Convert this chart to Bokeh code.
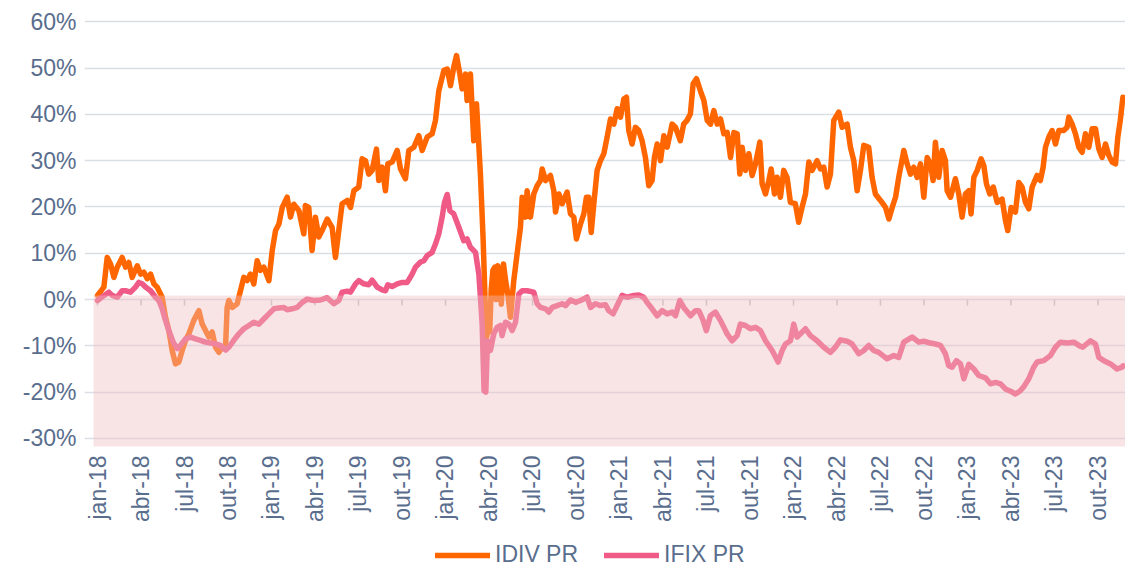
import math
from bokeh.plotting import figure
from bokeh.models import (Range1d, FixedTicker, PrintfTickFormatter, BoxAnnotation,
                          Legend, LegendItem)
from bokeh.core.properties import value
from bokeh.embed import file_html
from bokeh.resources import INLINE

# ---------------- data (months since jan-2018, value in %) ----------------
tick_months = [0, 3, 6, 9, 12, 15, 18, 21, 24, 27, 30, 33, 36, 39, 42, 45,
               48, 51, 54, 57, 60, 63, 66, 69]
tick_labels = ["jan-18", "abr-18", "jul-18", "out-18", "jan-19", "abr-19", "jul-19", "out-19",
               "jan-20", "abr-20", "jul-20", "out-20", "jan-21", "abr-21", "jul-21", "out-21",
               "jan-22", "abr-22", "jul-22", "out-22", "jan-23", "abr-23", "jul-23", "out-23"]
y_ticks = [-30, -20, -10, 0, 10, 20, 30, 40, 50, 60]

idiv_t = [0.0, 0.44, 0.67, 0.9, 1.13, 1.36, 1.7, 1.93, 2.16, 2.39, 2.74, 2.97, 3.2, 3.43, 3.66, 3.89,
          4.11, 4.46, 4.69, 4.92, 5.15, 5.38, 5.61, 5.84, 6.07, 6.3, 6.64, 6.99, 7.22, 7.45, 7.68,
          7.91, 8.14, 8.37, 8.6, 8.83, 8.94, 9.06, 9.29, 9.63, 9.86, 10.09, 10.32, 10.55, 10.78,
          11.01, 11.24, 11.47, 11.82, 12.05, 12.28, 12.51, 12.74, 13.08, 13.31, 13.54, 13.89,
          14.23, 14.34, 14.57, 14.8, 15.03, 15.26, 15.49, 15.84, 16.18, 16.41, 16.64, 16.87,
          17.22, 17.45, 17.68, 18.02, 18.25, 18.48, 18.71, 18.94, 19.24, 19.4, 19.63, 19.86,
          20.02, 20.32, 20.67, 20.9, 21.24, 21.47, 21.82, 22.16, 22.39, 22.74, 23.08, 23.31,
          23.54, 23.89, 24.12, 24.35, 24.57, 24.76, 24.99, 25.15, 25.38, 25.49, 25.72, 25.95,
          26.14, 26.41, 26.6, 26.75, 26.85, 26.95, 27.05, 27.15, 27.27, 27.4, 27.5, 27.6, 27.75,
          27.85, 28.0, 28.15, 28.3, 28.48, 28.71, 28.94, 29.17, 29.29, 29.52, 29.63, 29.86,
          30.09, 30.32, 30.55, 30.67, 30.9, 31.24, 31.47, 31.59, 31.82, 32.05, 32.39, 32.62,
          32.85, 33.03, 33.31, 33.54, 33.72, 33.88, 34.05, 34.23, 34.46, 34.69, 34.92, 35.15,
          35.38, 35.61, 35.84, 36.07, 36.3, 36.48, 36.64, 36.87, 37.1, 37.33, 37.56, 37.79,
          38.02, 38.25, 38.41, 38.6, 38.83, 39.06, 39.29, 39.63, 39.86, 40.2, 40.43, 40.66,
          40.89, 41.08, 41.31, 41.59, 41.82, 42.05, 42.28, 42.51, 42.74, 42.97, 43.2, 43.43,
          43.66, 43.89, 44.12, 44.3, 44.46, 44.69, 44.92, 45.15, 45.38, 45.68, 45.84, 46.07,
          46.3, 46.46, 46.69, 46.87, 47.1, 47.33, 47.56, 47.79, 48.13, 48.36, 48.59, 48.83,
          49.06, 49.29, 49.63, 49.86, 50.09, 50.32, 50.55, 50.78, 51.13, 51.36, 51.7, 51.93,
          52.16, 52.39, 52.62, 52.85, 53.19, 53.42, 53.65, 54.0, 54.35, 54.58, 54.81, 55.04,
          55.26, 55.61, 55.84, 56.07, 56.3, 56.53, 56.76, 56.99, 57.22, 57.45, 57.63, 57.79,
          58.02, 58.25, 58.48, 58.6, 58.83, 59.17, 59.4, 59.63, 59.86, 60.09, 60.25, 60.44,
          60.67, 60.94, 61.13, 61.31, 61.54, 61.78, 62.05, 62.39, 62.62, 62.78, 63.01, 63.31,
          63.54, 63.77, 64.0, 64.23, 64.46, 64.8, 65.03, 65.22, 65.38, 65.61, 65.84, 66.07,
          66.3, 66.64, 66.87, 66.99, 67.22, 67.45, 67.68, 67.91, 68.14, 68.37, 68.6, 68.83,
          69.06, 69.29, 69.52, 69.75, 69.98, 70.21, 70.37, 70.54, 70.72]
idiv_v = [0.9, 2.7, 9.1, 7.7, 4.8, 7.0, 9.1, 7.0, 8.0, 4.8, 7.3, 5.5, 5.9, 4.5, 5.5, 3.4,
          2.7, 0.5, -3.8, -6.7, -11.0, -13.9, -13.5, -11.0, -8.8, -7.4, -4.5, -2.4, -5.3, -6.7, -8.1,
          -7.0, -10.3, -11.4, -10.3, -10.3, -1.7, -0.2, -1.7, -0.9, 1.9, 4.8, 4.1, 5.5, 3.4,
          8.4, 6.3, 7.0, 4.1, 10.6, 14.9, 16.3, 19.9, 22.1, 17.8, 20.6, 19.2,
          14.2, 20.3, 19.9, 10.6, 17.8, 13.5, 14.9, 17.4, 15.6, 9.1, 14.9, 20.7,
          21.4, 19.9, 23.5, 24.3, 30.4, 30.0, 27.1, 27.9, 32.5, 25.7, 28.6, 23.5,
          29.3, 29.7, 32.2, 28.2, 26.1, 32.2, 32.9, 35.4, 32.2, 35.1, 35.8, 38.7,
          45.1, 49.5, 49.8, 46.2, 50.2, 52.7, 48.7, 45.5, 48.7, 43.0, 48.7, 34.3,
          42.3, 27.1, 12.7, -2.0, -8.0, -5.0, -7.0, 2.0, 6.3, 7.0, 0.0, 7.3, 5.5,
          -1.0, 7.7, 4.0, 1.2, -3.8, 4.1, 9.9, 15.6, 22.1, 17.8, 23.5, 17.8,
          22.8, 24.6, 25.7, 28.2, 25.7, 26.8, 23.5, 18.9, 22.8, 20.7, 23.2, 18.5,
          17.8, 13.1, 16.3, 18.5, 22.1, 22.1, 14.5, 20.7, 27.9, 30.0, 31.5, 35.1,
          39.0, 37.9, 41.2, 39.4, 43.3, 43.7, 36.5, 33.6, 37.2, 36.5, 34.3, 30.7,
          24.6, 25.7, 30.7, 33.6, 30.0, 35.4, 32.9, 37.9, 37.2, 34.3, 37.9, 38.7,
          40.1, 46.6, 47.7, 45.0, 43.0, 38.7, 37.9, 40.8, 37.9, 39.0, 35.8, 36.1,
          30.7, 36.1, 35.8, 27.1, 32.9, 27.9, 31.5, 26.8, 29.3, 34.0, 25.0, 22.8,
          25.7, 28.2, 22.8, 26.4, 22.1, 27.9, 26.4, 21.0, 20.7, 16.7, 19.9, 22.8,
          29.7, 27.9, 30.0, 28.2, 28.6, 24.3, 27.1, 38.7, 40.5, 37.2, 37.9, 32.9,
          30.0, 23.5, 27.9, 33.3, 32.9, 26.4, 22.8, 21.4, 19.9, 17.4, 19.9, 22.1,
          26.4, 32.2, 29.3, 27.1, 28.6, 26.4, 29.3, 22.1, 30.7, 29.3, 25.7, 34.0,
          26.4, 32.2, 30.0, 23.5, 22.1, 26.1, 22.8, 17.8, 22.8, 23.5, 18.5, 26.4,
          27.9, 30.4, 28.9, 25.0, 22.8, 24.3, 21.0, 21.7, 17.1, 14.9, 19.9, 18.9,
          25.3, 24.3, 21.0, 19.6, 24.3, 26.8, 25.7, 28.6, 32.9, 35.1, 36.5, 33.6,
          36.5, 36.5, 37.2, 39.4, 37.9, 35.8, 32.9, 31.8, 35.8, 32.9, 36.9, 36.9,
          32.5, 30.7, 33.6, 31.1, 29.7, 29.3, 35.1, 38.7, 43.7]

ifix_t = [0.0, 0.46, 0.78, 1.01, 1.36, 1.7, 1.93, 2.28, 2.62, 2.85, 3.08, 3.31, 3.66, 4.0, 4.23,
          4.46, 4.69, 4.92, 5.22, 5.5, 5.72, 6.07, 6.41, 6.76, 7.1, 7.45, 7.8, 8.14, 8.48, 8.83,
          9.06, 9.4, 9.75, 10.09, 10.44, 10.78, 11.13, 11.47, 11.82, 12.16, 12.51, 12.85, 13.08,
          13.43, 13.77, 14.12, 14.46, 14.92, 15.38, 15.84, 16.3, 16.64, 16.87, 17.22, 17.45,
          17.8, 18.02, 18.37, 18.71, 18.94, 19.29, 19.63, 19.86, 20.02, 20.32, 20.67, 21.01,
          21.36, 21.7, 21.93, 22.28, 22.51, 22.74, 23.08, 23.31, 23.54, 23.77, 23.93, 24.12,
          24.3, 24.57, 24.92, 25.26, 25.49, 25.72, 26.07, 26.3, 26.53, 26.66, 26.78, 26.9, 27.1,
          27.33, 27.56, 27.79, 27.9, 28.14, 28.37, 28.6, 28.83, 29.06, 29.29, 29.63, 30.09,
          30.32, 30.55, 30.9, 31.13, 31.36, 31.7, 32.05, 32.28, 32.62, 32.97, 33.31, 33.77,
          34.0, 34.34, 34.69, 35.03, 35.26, 35.56, 35.84, 36.18, 36.53, 36.99, 37.33, 37.67,
          37.9, 38.25, 38.6, 38.94, 39.29, 39.63, 39.86, 40.16, 40.43, 40.9, 41.24, 41.47,
          41.77, 41.99, 42.27, 42.62, 42.96, 43.42, 43.77, 44.11, 44.34, 44.69, 45.03, 45.38,
          45.72, 46.07, 46.53, 46.94, 47.22, 47.45, 47.79, 48.02, 48.25, 48.48, 48.83, 49.17,
          49.63, 50.09, 50.55, 50.89, 51.24, 51.7, 52.04, 52.5, 52.85, 53.19, 53.54, 53.88,
          54.46, 54.92, 55.26, 55.61, 56.18, 56.64, 56.99, 57.45, 57.79, 58.14, 58.48, 58.71,
          58.94, 59.24, 59.52, 59.75, 60.09, 60.44, 60.78, 61.24, 61.59, 61.93, 62.28, 62.62,
          62.97, 63.31, 63.61, 63.89, 64.23, 64.57, 64.8, 65.26, 65.72, 66.07, 66.41, 66.87,
          67.33, 67.79, 67.95, 68.48, 68.83, 69.06, 69.41, 69.87, 70.32, 70.67, 70.72]
ifix_v = [-0.2, 0.9, 1.6, 0.9, 0.5, 1.9, 1.9, 1.6, 2.7, 3.7, 3.4, 2.7, 1.9, 0.5, -0.2,
          -2.0, -4.5, -6.7, -9.2, -10.6, -9.9, -8.5, -8.1, -8.5, -8.8, -9.2, -9.4, -9.6, -9.9, -10.9,
          -10.3, -8.8, -7.4, -6.3, -5.6, -4.9, -5.3, -4.2, -3.1, -2.0, -1.8, -1.7, -2.2,
          -2.0, -1.7, -0.6, 0.1, -0.2, -0.1, 0.4, -0.9, -0.2, 1.6, 1.8, 1.6,
          3.4, 4.1, 3.4, 3.2, 4.2, 2.7, 2.1, 1.9, 3.2, 2.8, 3.4, 3.7,
          3.7, 5.5, 7.0, 8.1, 8.4, 9.5, 10.2, 12.0, 14.2, 17.8, 21.0, 22.7,
          19.2, 18.5, 15.6, 12.7, 13.1, 11.3, 10.2, 5.5, -5.3, -19.7, -20.0, -8.9, -11.0,
          -7.4, -6.0, -5.6, -7.8, -4.9, -5.3, -6.7, -4.9, 1.2, 1.9, 1.9, 1.6,
          -0.9, -1.7, -2.0, -2.7, -1.7, -1.3, -0.9, -1.3, -0.1, -0.6, -0.2, 0.5,
          -1.7, -0.9, -1.3, -1.1, -2.4, -3.1, -1.3, 0.9, 0.5, 0.9, 1.0, 0.5,
          -0.6, -2.0, -3.5, -2.4, -3.1, -2.7, -3.5, -0.2, -1.7, -3.5, -2.4, -2.4,
          -4.5, -6.7, -3.5, -2.7, -4.5, -7.4, -8.9, -7.8, -5.3, -5.6, -6.3, -6.0,
          -6.7, -8.9, -11.0, -13.5, -11.0, -9.6, -8.9, -5.3, -8.1, -7.4, -6.3, -7.8,
          -8.9, -10.3, -11.4, -10.3, -8.7, -9.0, -9.6, -11.7, -11.0, -9.9, -11.0, -11.4,
          -12.8, -12.1, -12.5, -9.2, -8.1, -9.2, -9.0, -9.4, -9.6, -9.9, -11.7, -14.3,
          -14.6, -13.2, -13.9, -17.1, -14.0, -15.0, -16.4, -16.9, -18.2, -17.9, -18.2, -19.3,
          -19.8, -20.4, -19.8, -18.8, -17.1, -14.6, -13.5, -13.2, -12.1, -10.3, -9.2, -9.4,
          -9.2, -10.1, -10.3, -8.9, -9.6, -12.5, -13.2, -13.9, -15.0, -14.6, -14.3]

series_names = ["IDIV PR", "IFIX PR"]
series_colors = ["#FF6600", "#F05A87"]

# ---------------- styling ----------------
FONT = "Liberation Sans"
TEXT_COLOR = "#596D8D"
GRID_COLOR = "#D9DEE7"
BAND_LEFT = -0.276    # shaded "negative" band
BAND_TOP = 0.9
BAND_BOTTOM = -31.75  # also the baseline of the month labels

p = figure(width=1125, height=570,
           x_range=Range1d(-0.897, 70.9), y_range=Range1d(-58.52, 62.0),
           output_backend="svg", toolbar_location=None,
           min_border_left=84, min_border_right=0, min_border_top=12, min_border_bottom=0)
p.outline_line_color = None
p.background_fill_color = "white"
p.border_fill_color = "white"

# y axis
p.yaxis.ticker = FixedTicker(ticks=y_ticks)
p.yaxis.formatter = PrintfTickFormatter(format="%d%%")
p.yaxis.axis_line_color = None
p.yaxis.major_tick_line_color = None
p.yaxis.minor_tick_line_color = None
p.yaxis.major_tick_out = 0
p.yaxis.major_tick_in = 0
p.yaxis.major_label_text_font = FONT
p.yaxis.major_label_text_font_size = "23px"
p.yaxis.major_label_text_color = TEXT_COLOR
p.yaxis.major_label_standoff = 8
p.xaxis.visible = False

p.xgrid.grid_line_color = None
p.ygrid.ticker = FixedTicker(ticks=y_ticks)
p.ygrid.grid_line_color = GRID_COLOR
p.ygrid.grid_line_width = 1.5

# small ticks along the zero line
p.segment(x0=tick_months, y0=[0] * len(tick_months), x1=tick_months,
          y1=[-1.3] * len(tick_months), line_color="#C4C4C8", line_width=1.5)

# series
r1 = p.line(idiv_t, idiv_v, line_color=series_colors[0], line_width=5.5,
            line_join="round", line_cap="round")
r2 = p.line(ifix_t, ifix_v, line_color=series_colors[1], line_width=5.5,
            line_join="round", line_cap="round")

# shaded negative band (drawn over the lines)
band = BoxAnnotation(left=BAND_LEFT, top=BAND_TOP, bottom=BAND_BOTTOM,
                     fill_color=(238, 190, 193), fill_alpha=0.42, line_color=None)
p.add_layout(band)

# month labels (rotated, reading upwards) under the band
p.text(x=tick_months, y=[BAND_BOTTOM] * len(tick_months), text=tick_labels,
       angle=math.pi / 2, text_align="right", text_baseline="middle", y_offset=9,
       text_font=value(FONT), text_font_size="23px", text_color=TEXT_COLOR)

legend = Legend(items=[LegendItem(label=series_names[0], renderers=[r1]),
                       LegendItem(label=series_names[1], renderers=[r2])],
                orientation="horizontal", location=(351, 2),
                label_text_font=FONT, label_text_font_size="23px",
                label_text_color=TEXT_COLOR, glyph_width=55, glyph_height=20,
                label_height=20, label_standoff=5, spacing=26, padding=0, margin=0,
                border_line_color=None, background_fill_alpha=0)
p.add_layout(legend, "center")

open("out.html", "w").write(file_html(p, INLINE))
